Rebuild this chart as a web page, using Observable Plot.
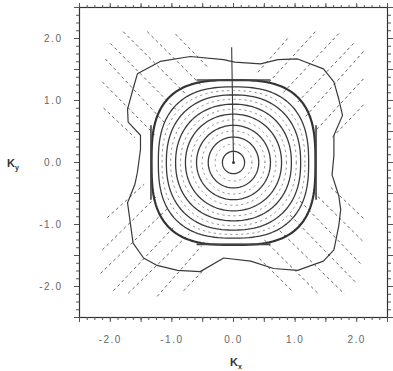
<!DOCTYPE html>
<html><head><meta charset="utf-8">
<script src="https://cdn.jsdelivr.net/npm/d3@7"></script>
<script src="https://cdn.jsdelivr.net/npm/@observablehq/plot@0.6"></script>
<style>body{margin:0;background:#fff}#chart{width:393px;height:371px}</style>
</head><body><div id="chart"></div>
<script>
// ---- data ----
const tickLabels = [-2, -1, 0, 1, 2];
// solid near-circular contours centred on (0,0): radius and squareness
const ringRadius = [0.18, 0.41, 0.60, 0.78, 0.94, 1.09, 1.22, 1.33];
const ringShape  = [2.0, 2.0, 2.0, 2.05, 2.15, 2.3, 2.55, 2.9];
// faint dashed contours between the solid rings
const faintRadius = [0.30, 0.51, 0.69, 0.86, 1.02, 1.16];
const faintShape  = [2.0, 2.0, 2.0, 2.1, 2.2, 2.4];
// outer four-lobed contour (x, y)
const outerX = [-0.16, 0.02, 0.44, 0.72, 1.04, 1.46, 1.63, 1.71, 1.77, 1.63, 1.63, 1.60, 1.71, 1.74, 1.71, 1.63, 1.46, 1.04, 0.65, 0.28, -0.16, -0.54, -0.91, -1.24, -1.46, -1.63, -1.72, -1.60, -1.56, -1.51, -1.51, -1.71, -1.72, -1.63, -1.56, -1.19, -0.70, -0.16];
const outerY = [1.66, 1.62, 1.59, 1.66, 1.67, 1.51, 1.30, 1.02, 0.76, 0.44, 0.11, -0.20, -0.54, -0.76, -1.02, -1.41, -1.59, -1.74, -1.71, -1.59, -1.54, -1.76, -1.74, -1.66, -1.54, -1.30, -0.65, -0.35, -0.16, 0.21, 0.44, 0.65, 0.86, 1.19, 1.43, 1.63, 1.71, 1.66];
// dashed diagonal contours in the four corners: [x1, y1, x2, y2]
const cornerUL = [[-0.94, 2.07, -0.42, 1.54], [-1.40, 2.11, -0.50, 1.22], [-1.79, 2.11, -0.75, 1.08], [-2.00, 1.92, -0.92, 0.84], [-2.08, 1.67, -1.08, 0.60], [-2.13, 1.30, -1.28, 0.45], [-2.11, 0.88, -1.60, 0.40]];
const cornerUR = [[0.88, 2.00, 0.39, 1.45], [1.33, 2.11, 0.58, 1.30], [1.71, 2.08, 0.80, 1.12], [1.95, 1.92, 1.02, 0.95], [2.11, 1.79, 1.15, 0.72], [2.11, 1.35, 1.32, 0.50], [2.11, 0.93, 1.58, 0.38]];
const cornerLL = [[-2.05, -0.89, -1.45, -0.35], [-2.13, -1.41, -1.25, -0.55], [-2.16, -1.79, -1.08, -0.75], [-1.95, -2.07, -0.95, -1.02], [-1.71, -2.11, -0.72, -1.15], [-1.24, -2.16, -0.52, -1.35], [-0.81, -2.07, -0.50, -1.75]];
const cornerLR = [[1.58, -0.40, 2.11, -0.90], [1.30, -0.48, 2.13, -1.30], [1.08, -0.62, 2.08, -1.65], [0.92, -0.85, 2.00, -1.95], [0.75, -1.10, 1.80, -2.12], [0.50, -1.25, 1.38, -2.12], [0.42, -1.55, 0.95, -2.07]];
// flat bars beside the bold ring and the vertical line from the centre
const sideBars = [[-0.60, 1.33, 0.60, 1.33], [-0.60, -1.32, 0.60, -1.32], [-1.34, -0.60, -1.34, 0.60], [1.34, -0.60, 1.34, 0.60]];
const centreLine = [[0, 0, -0.03, 1.86]];

// ---- build tables ----
function ringPoints(r, p, id) {
  const pts = [];
  for (let k = 0; k <= 144; k++) {
    const t = (k / 144) * 2 * Math.PI, c = Math.cos(t), s = Math.sin(t);
    pts.push({ring: id, x: r * Math.sign(c) * Math.abs(c) ** (2 / p), y: r * Math.sign(s) * Math.abs(s) ** (2 / p)});
  }
  return pts;
}
const rings = ringRadius.flatMap((r, i) => ringPoints(r, ringShape[i], i));
const thinRings = rings.filter(d => d.ring < ringRadius.length - 1);
const boldRing = rings.filter(d => d.ring === ringRadius.length - 1);
const faint = faintRadius.flatMap((r, i) => ringPoints(r, faintShape[i], i));
const outer = outerX.map((x, i) => ({x, y: outerY[i]}));
outer.push(outer[0]);
const seg = a => a.map(([x1, y1, x2, y2]) => ({x1, y1, x2, y2}));
const corners = seg([...cornerUL, ...cornerUR, ...cornerLL, ...cornerLR]);
const minor = d3.range(-20, 21).map(i => i * 0.125);
const major = d3.range(-5, 6).map(i => i * 0.5);

const ink = "#3a3a3a";
const fmt = d => d.toFixed(1);
const plot = Plot.plot({
  width: 393, height: 371,
  marginLeft: 79, marginRight: 6, marginTop: 7, marginBottom: 54,
  x: {domain: [-2.5, 2.5], label: null},
  y: {domain: [-2.5, 2.5], label: null},
  style: {fontFamily: "Liberation Sans, Arial, sans-serif", fontSize: "10px", color: "#555", background: "#fff"},
  marks: [
    Plot.link(corners, {x1: "x1", y1: "y1", x2: "x2", y2: "y2", stroke: "#555", strokeWidth: 0.9, strokeDasharray: "3,3"}),
    Plot.line(faint, {x: "x", y: "y", z: "ring", stroke: "#888", strokeWidth: 0.9, strokeDasharray: "1.5,4"}),
    Plot.line(outer, {x: "x", y: "y", stroke: ink, strokeWidth: 1.2}),
    Plot.line(thinRings, {x: "x", y: "y", z: "ring", stroke: ink, strokeWidth: 1.3}),
    Plot.line(boldRing, {x: "x", y: "y", stroke: "#333", strokeWidth: 2.2}),
    Plot.link(seg(sideBars), {x1: "x1", y1: "y1", x2: "x2", y2: "y2", stroke: "#444", strokeWidth: 1.6}),
    Plot.link(seg(centreLine), {x1: "x1", y1: "y1", x2: "x2", y2: "y2", stroke: ink, strokeWidth: 1.1}),
    Plot.dot([{x: 0, y: 0}], {x: "x", y: "y", r: 1.5, fill: ink}),
    Plot.frame({stroke: "#333", strokeWidth: 1.2}),
    Plot.axisX(minor, {anchor: "bottom", tickSize: 3, tickFormat: () => "", stroke: "#555"}),
    Plot.axisX(major, {anchor: "bottom", tickSize: 5, tickFormat: () => "", stroke: "#555"}),
    Plot.axisX(minor, {anchor: "top", tickSize: 3, tickFormat: () => "", stroke: "#555"}),
    Plot.axisX(major, {anchor: "top", tickSize: 5, tickFormat: () => "", stroke: "#555"}),
    Plot.axisY(minor, {anchor: "left", tickSize: 3, tickFormat: () => "", stroke: "#555"}),
    Plot.axisY(major, {anchor: "left", tickSize: 5, tickFormat: () => "", stroke: "#555"}),
    Plot.axisY(minor, {anchor: "right", tickSize: 3, tickFormat: () => "", stroke: "#555"}),
    Plot.axisY(major, {anchor: "right", tickSize: 5, tickFormat: () => "", stroke: "#555"}),
    Plot.axisX(tickLabels, {anchor: "bottom", tickSize: 0, tickPadding: 18, tickFormat: fmt, fill: "#666", fontSize: 10}),
    Plot.axisY(tickLabels, {anchor: "left", tickSize: 0, tickPadding: 17, tickFormat: fmt, fill: "#666", fontSize: 10})
  ]
});
d3.select(plot).selectAll("text").attr("letter-spacing", "1.5px");
const svg = d3.select(plot);
const addTitle = (x, y, sub) => {
  const t = svg.append("text").attr("x", x).attr("y", y).attr("text-anchor", "middle")
    .attr("font-size", 11).attr("font-weight", "bold").attr("fill", "#333");
  t.append("tspan").text("K");
  t.append("tspan").attr("font-size", 7).attr("dy", 3).text(sub);
};
addTitle(236, 366, "x");
addTitle(13, 167, "y");
document.getElementById("chart").appendChild(plot);
</script></body></html>
